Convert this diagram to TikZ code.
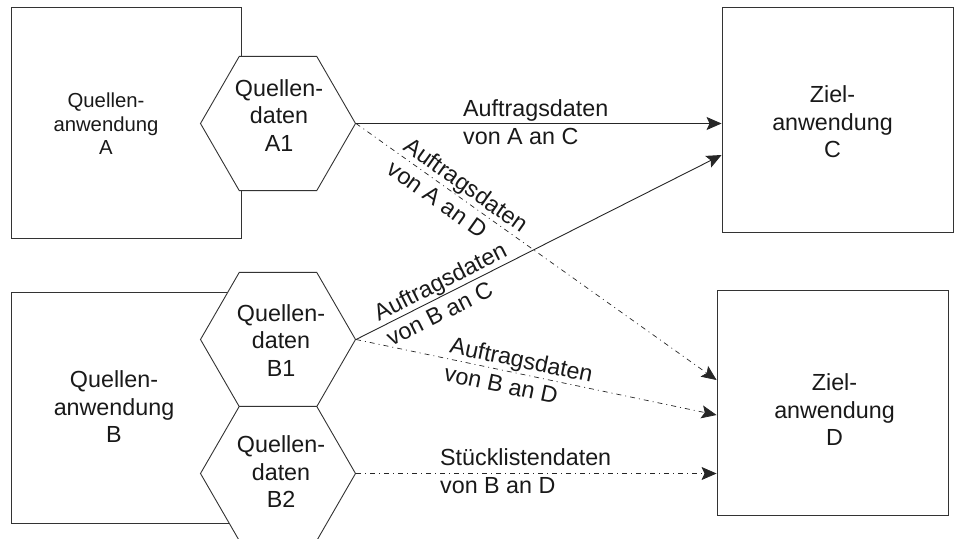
\documentclass[tikz,border=0pt]{standalone}
\usepackage{fontspec}
\setmainfont{Liberation Sans}
\usetikzlibrary{shapes.geometric,arrows.meta,calc}

\begin{document}
\begin{tikzpicture}[x=1pt,y=-1pt,
  box/.style={draw=black!80, line width=0.9pt, minimum width=230pt,
    minimum height=231pt, inner sep=0pt},
  target/.style={box, minimum width=231pt, minimum height=225pt},
  hexa/.style={draw=black!80, fill=white, line width=0.9pt, regular polygon,
    regular polygon sides=6, minimum size=155pt, inner sep=0pt},
  txt/.style={align=center, text=black!90, inner sep=0pt,
    font=\fontsize{23.3}{27.5}\selectfont},
  lab/.style={align=left, text=black!90, inner sep=0pt,
    font=\fontsize{23.3}{28.5}\selectfont},
  flow/.style={line width=0.9pt, draw=black!85,
    -{Stealth[length=15pt,width=13pt,inset=3pt]}},
  dd/.style={flow, line width=0.7pt, dash pattern=on 5pt off 4pt on 1pt off 4pt},
]
\clip (0,0) rectangle (957,538);

% applications
\node[box] (A) at (126,122.5) {};
\node[box] (B) at (126,407.5) {};
\node[target] (C) at (837.5,119.5) {};
\node[target] (D) at (832.5,402.5) {};

% source data hexagons
\node[hexa] (A1) at (278,123.5) {};
\node[hexa] (B1) at (278,339.5) {};
\node[hexa] (B2) at (278,473.5) {};

% texts
\node[txt, font=\fontsize{20.3}{23.5}\selectfont] (At) at (106,124) {Quellen-\\anwendung\\A};
\node[txt] (Bt) at (114,407) {Quellen-\\anwendung\\B};
\node[txt] (Ct) at (832.5,122) {Ziel-\\anwendung\\C};
\node[txt] (Dt) at (834.5,410) {Ziel-\\anwendung\\D};
\node[txt] (A1t) at (279,115.5) {Quellen-\\daten\\A1};
\node[txt] (B1t) at (281,340.5) {Quellen-\\daten\\B1};
\node[txt] (B2t) at (281,472) {Quellen-\\daten\\B2};

% data flows
\draw[flow] (A1.east) -- (A1.east -| C.west);
\draw[flow] (B1.east) -- node[lab, sloped, pos=0.247] (lBC) {Auftragsdaten\\von B an C} ([yshift=-35.5pt]C.west);
\draw[dd] (A1.east) -- node[lab, sloped, pos=0.283] (lAD) {Auftragsdaten\\von A an D} ([yshift=22.5pt]D.west);
\draw[dd] (B1.east) -- node[lab, sloped, pos=0.451] (lBD) {Auftragsdaten\\von B an D} ([yshift=-12.5pt]D.west);
\draw[dd] (B2.east) -- (B2.east -| D.west);

% horizontal flow labels
\node[lab, anchor=west] (lAC) at (463,122) {Auftragsdaten\\von A an C};
\node[lab, anchor=west] (lSD) at (440,471) {Stücklistendaten\\von B an D};
\end{tikzpicture}
\end{document}
